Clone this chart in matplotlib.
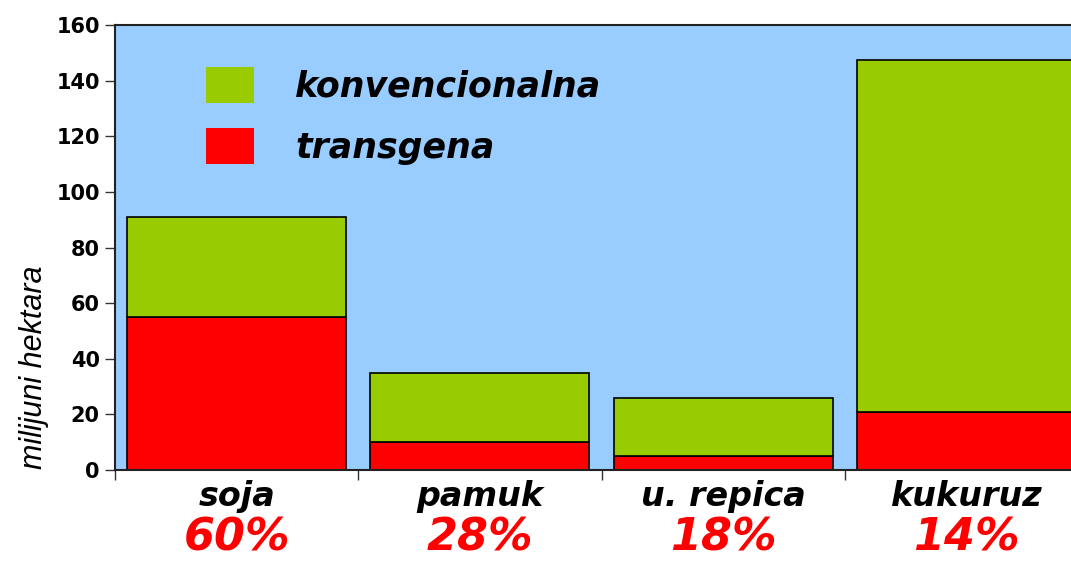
import matplotlib
matplotlib.use("Agg")
import matplotlib.pyplot as plt
from matplotlib.patches import Patch

# data (million hectares)
crops = ["soja", "pamuk", "u. repica", "kukuruz"]
transgenic = [55, 10, 5, 21]
total = [91, 35, 26, 147.5]
shares = ["60%", "28%", "18%", "14%"]
conventional = [t - g for t, g in zip(total, transgenic)]

GREEN = "#99cc00"
RED = "#ff0000"
SKY = "#99ccff"

fig = plt.figure(figsize=(10.71, 5.63), dpi=100)
ax = fig.add_axes([0.1074, 0.165, 0.8926, 0.7906])
ax.set_facecolor(SKY)

x = range(len(crops))
ax.bar(x, transgenic, width=0.9, color=RED, edgecolor="black", linewidth=1.2)
ax.bar(x, conventional, width=0.9, bottom=transgenic, color=GREEN,
       edgecolor="black", linewidth=1.2)

ax.set_xlim(-0.5, 3.43)
ax.set_ylim(0, 160)
ax.set_yticks(range(0, 161, 20))
for lab in ax.get_yticklabels():
    lab.set_fontweight("bold")
    lab.set_fontsize(15)
    lab.set_family("DejaVu Sans")
ax.set_xticks([-0.5, 0.5, 1.5, 2.5])
ax.set_xticklabels([])
ax.tick_params(axis="both", direction="out", length=7, width=1, color="#333333")
ax.tick_params(axis="y", pad=4)

for side in ["top", "left", "bottom"]:
    ax.spines[side].set_color("#222222")
    ax.spines[side].set_linewidth(1.5)
ax.spines["right"].set_visible(False)

ax.set_ylabel("milijuni hektara", fontsize=22, style="italic",
              family="Liberation Sans")
ax.yaxis.set_label_coords(-0.069, 0.23)

# category names and shares under the bars
trans = ax.get_xaxis_transform()
for i, (name, share) in enumerate(zip(crops, shares)):
    ax.text(i, -0.06, name, transform=trans, ha="center", va="center",
            fontsize=24, fontweight="bold", style="italic", family="DejaVu Sans")
    ax.text(i, -0.152, share, transform=trans, ha="center", va="center",
            fontsize=32, fontweight="bold", style="italic", color=RED,
            family="DejaVu Sans")

handles = [Patch(facecolor=GREEN, edgecolor="none", label="konvencionalna"),
           Patch(facecolor=RED, edgecolor="none", label="transgena")]
ax.legend(handles=handles, loc="upper left", bbox_to_anchor=(0.095, 0.905),
          frameon=False, borderpad=0, borderaxespad=0,
          handlelength=1.38, handleheight=1.2,
          handletextpad=1.2, labelspacing=0.7,
          prop={"family": "DejaVu Sans", "weight": "bold",
                "style": "italic", "size": 25})

fig.savefig("out.png", dpi=100)
